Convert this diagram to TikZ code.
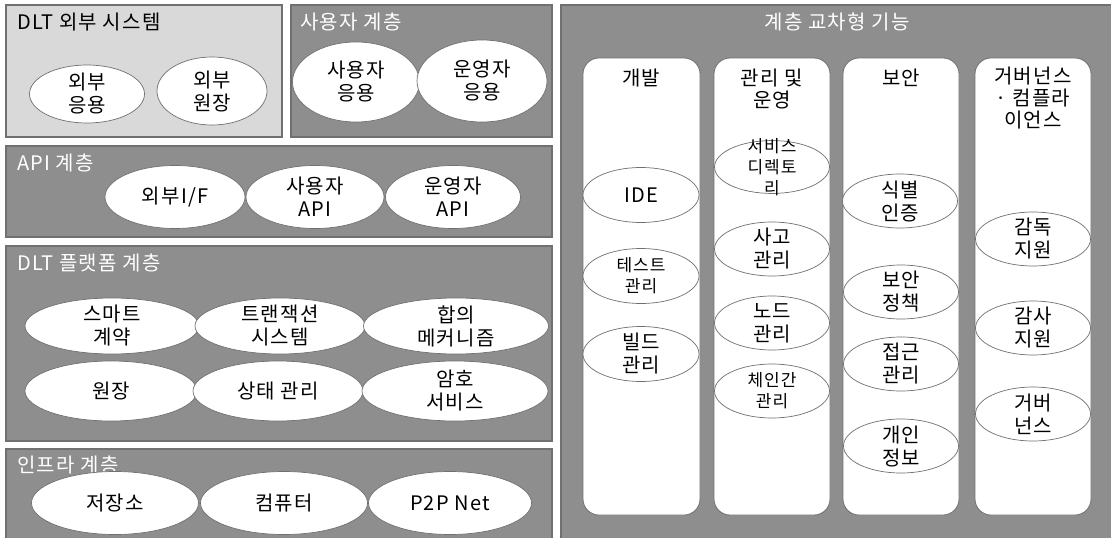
\documentclass[tikz,border=0pt]{standalone}
\usepackage{fontspec}
\setmainfont{Noto Sans CJK KR}[LetterSpace=6]
\usetikzlibrary{shapes.geometric}
\definecolor{layergray}{HTML}{8E8E8E}
\definecolor{outergray}{HTML}{D9D9D9}
\definecolor{linegray}{HTML}{707070}
\tikzset{layer/.style={draw=linegray,line width=1.2pt,fill=layergray},
         outer layer/.style={layer,fill=outergray},
         layer title/.style={anchor=west,inner sep=0pt,text=white,font=\fontsize{20}{23}\selectfont},
         dark title/.style={layer title,text=black},
         column/.style={draw=linegray,line width=0.8pt,fill=white,rounded corners=16pt},
         column title/.style={anchor=north,inner sep=0pt,align=center,font=\fontsize{20}{22}\selectfont},
         item/.style={ellipse,draw=linegray,line width=0.7pt,fill=white,inner sep=-10pt,align=center,
                      font=\fontsize{20}{23}\selectfont},
         small item/.style={item,font=\fontsize{17}{21}\selectfont}
         }
\begin{document}
\begin{tikzpicture}[x=1pt,y=-1pt]
\useasboundingbox (0,0) rectangle (1111,538);
% layers
\draw[outer layer] (6,5) rectangle (282,137);
\draw[layer] (291,5) rectangle (552,137);
\draw[layer] (6,146) rectangle (552,237);
\draw[layer] (6,246) rectangle (552,441);
\draw[layer] (6,449) rectangle (552,548);
\draw[layer] (561,5) rectangle (1120,548);
\node[dark title] (exttitle) at (17,22) {DLT 외부 시스템};
\node[layer title] (usertitle) at (300,22) {사용자 계층};
\node[layer title] (apititle) at (17,163) {API 계층};
\node[layer title] (dlttitle) at (17,263) {DLT 플랫폼 계층};
\node[layer title] (infratitle) at (17,465) {인프라 계층};
\node[layer title,anchor=center] (crosstitle) at (837,22) {계층 교차형 기능};
% external / user
\node[item,minimum width=115,minimum height=58] (extapp) at (87,94) {외부\\응용};
\node[item,minimum width=110,minimum height=68] (extledger) at (212,91) {외부\\원장};
\node[item,minimum width=127,minimum height=80] (userapp) at (356,82) {사용자\\응용};
\node[item,minimum width=130,minimum height=82] (opapp) at (482,81) {운영자\\응용};
% api
\node[item,minimum width=140,minimum height=63] (extif) at (175,197) {외부I/F};
\node[item,minimum width=138,minimum height=63] (userapi) at (315,197) {사용자\\API};
\node[item,minimum width=135,minimum height=63] (opapi) at (453,197) {운영자\\API};
% dlt platform
\node[item,minimum width=174,minimum height=56] (contract) at (112,326) {스마트\\계약};
\node[item,minimum width=170,minimum height=56] (txsys) at (280,326) {트랜잭션\\시스템};
\node[item,minimum width=185,minimum height=56] (consensus) at (456,326) {합의\\메커니즘};
\node[item,minimum width=172,minimum height=60] (ledger) at (111,391) {원장};
\node[item,minimum width=170,minimum height=60] (state) at (278,391) {상태 관리};
\node[item,minimum width=186,minimum height=60] (crypto) at (455,391) {암호\\서비스};
% infra
\node[item,minimum width=167,minimum height=63] (storage) at (115,503) {저장소};
\node[item,minimum width=167,minimum height=63] (computer) at (284,503) {컴퓨터};
\node[item,minimum width=163,minimum height=63] (p2p) at (450,503) {P2P Net};
% cross-layer columns
\draw[column] (583,58) rectangle (700,515);
\draw[column] (714,58) rectangle (830,515);
\draw[column] (843,58) rectangle (959,515);
\draw[column] (975,58) rectangle (1091,515);
\node[column title] (dev) at (641,69) {개발};
\node[column title] (ops) at (772,69) {관리 및\\운영};
\node[column title] (sec) at (901,69) {보안};
\node[column title] (gov) at (1033,67) {거버넌스\\· 컴플라\\이언스};
\node[item,minimum width=116,minimum height=55] (ide) at (641,195) {IDE};
\node[small item,minimum width=116,minimum height=55] (test) at (641,276) {테스트\\관리};
\node[item,minimum width=116,minimum height=55] (build) at (641,354) {빌드\\관리};
\node[small item,minimum width=115,minimum height=52] (svcdir) at (772,167) {서비스\\디렉토\\리};
\node[item,minimum width=115,minimum height=54] (incident) at (772,249) {사고\\관리};
\node[item,minimum width=115,minimum height=54] (nodemgmt) at (772,323) {노드\\관리};
\node[small item,minimum width=115,minimum height=54] (interchain) at (772,391) {체인간\\관리};
\node[item,minimum width=115,minimum height=54] (auth) at (900,201) {식별\\인증};
\node[item,minimum width=115,minimum height=54] (policy) at (901,292) {보안\\정책};
\node[item,minimum width=115,minimum height=54] (access) at (901,364) {접근\\관리};
\node[item,minimum width=115,minimum height=54] (privacy) at (901,446) {개인\\정보};
\node[item,minimum width=115,minimum height=54] (supervise) at (1033,239) {감독\\지원};
\node[item,minimum width=115,minimum height=54] (audit) at (1033,328) {감사\\지원};
\node[item,minimum width=115,minimum height=54] (governance) at (1033,414) {거버\\넌스};
\end{tikzpicture}
\end{document}
